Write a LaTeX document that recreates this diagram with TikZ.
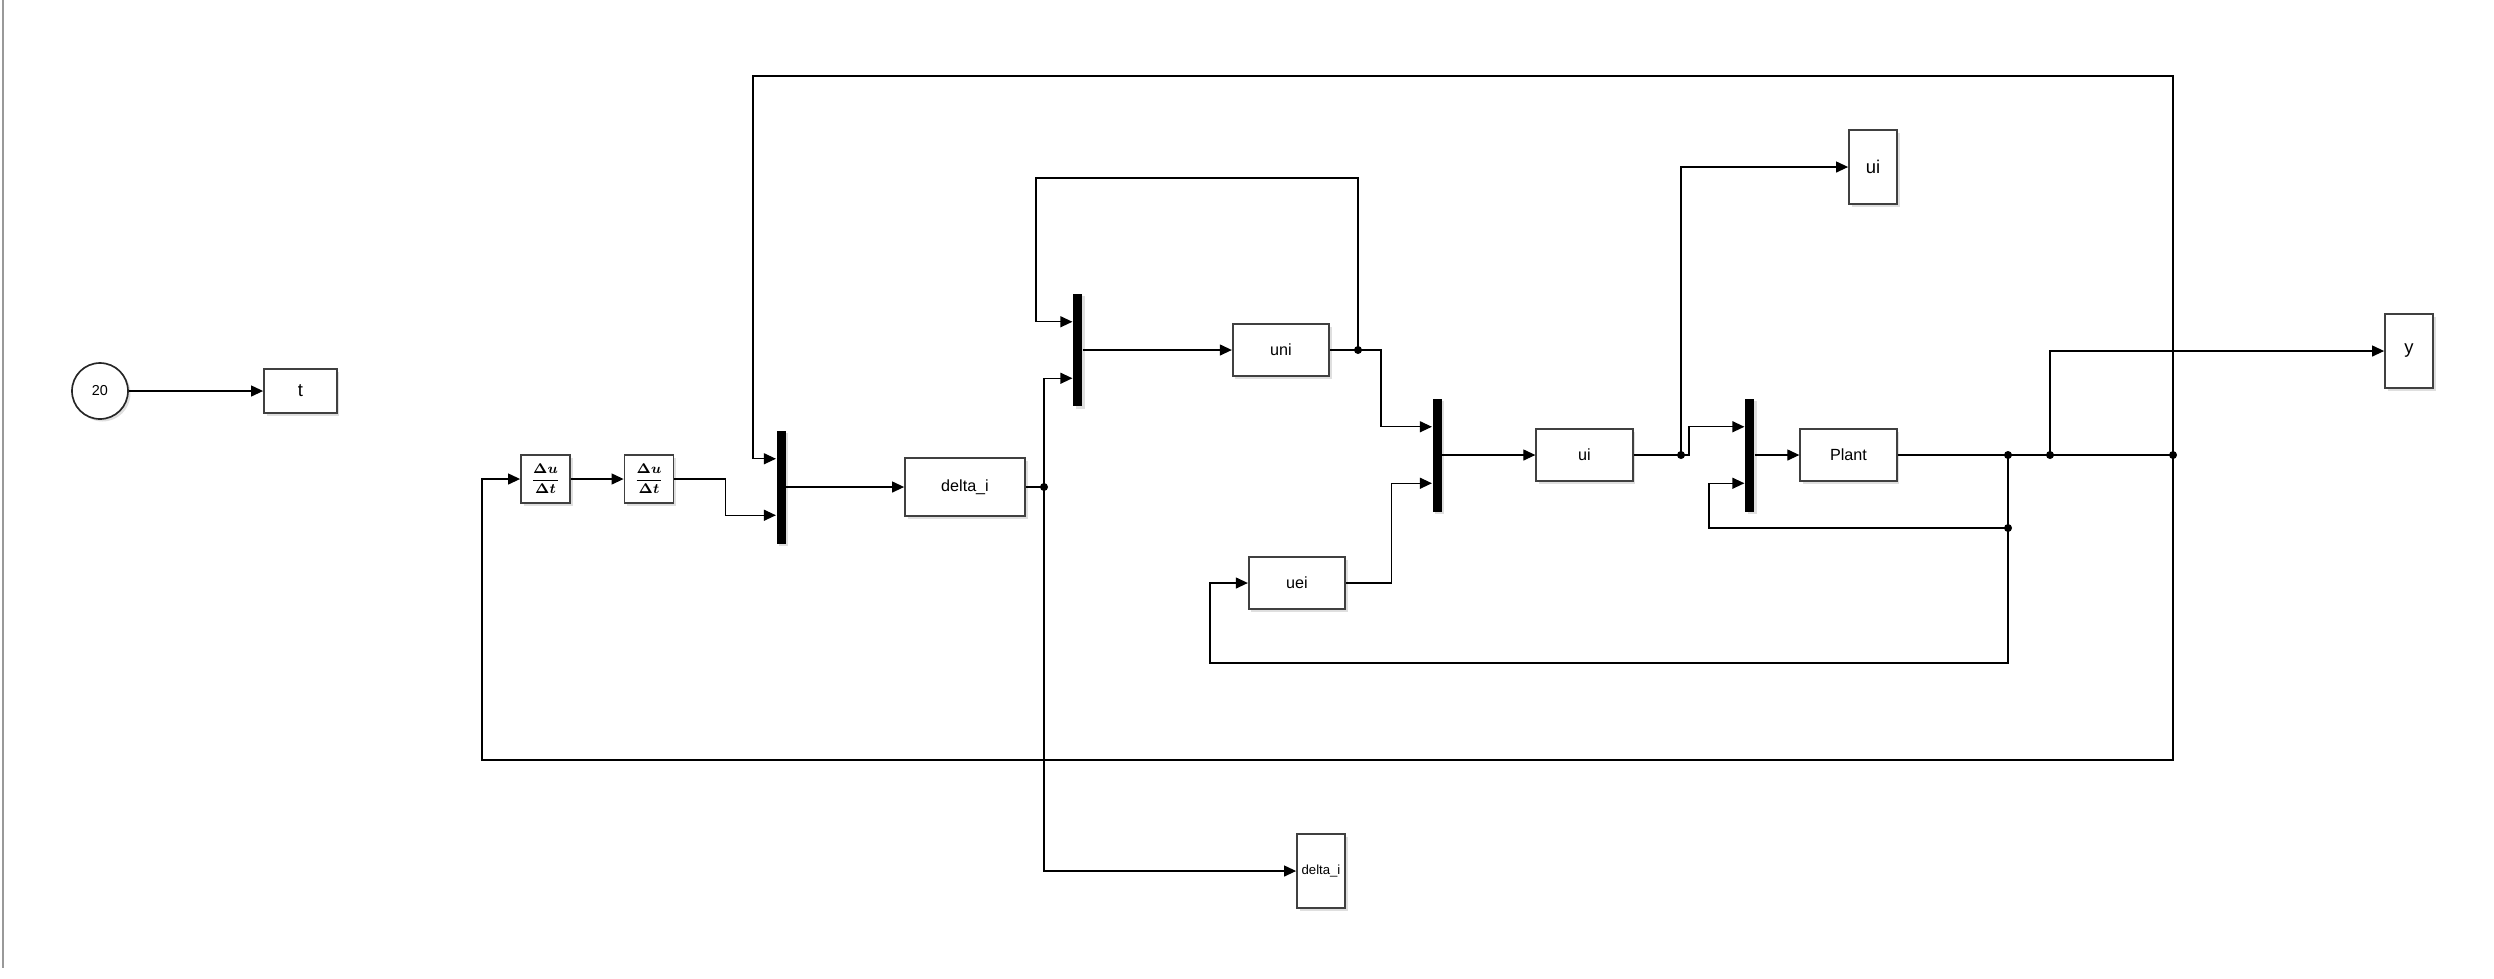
\documentclass[tikz,border=0pt]{standalone}
\usepackage{amsmath}
\usepackage{fontspec}
\setmainfont{Liberation Sans}
\usetikzlibrary{arrows.meta,shadows}
\begin{document}
\begin{tikzpicture}[x=0.02cm, y=-0.02cm, line width=0.7pt, >={Triangle[length=0.24cm,width=0.22cm]}]
        \tikzstyle{shd} = [drop shadow={shadow xshift=0.05cm, shadow yshift=-0.05cm, opacity=0.25}]
        \tikzstyle{blk} = [rectangle, draw=black!75, line width=1.05pt, fill=white, shd, inner sep=0pt, minimum width=1.93cm, minimum height=1.04cm, font=\fontsize{9.2}{10}\selectfont]
        \tikzstyle{port} = [blk, minimum width=0.96cm, minimum height=1.48cm, font=\fontsize{10.5}{12}\selectfont]
        \tikzstyle{mux} = [rectangle, fill=black, shd, inner sep=0pt, minimum width=0.18cm, minimum height=2.26cm]
        \tikzstyle{cst} = [circle, draw=black!85, line width=0.95pt, fill=white, shd, minimum size=1.12cm, font=\fontsize{8.2}{10}\selectfont]
        \tikzstyle{dudt} = [blk, minimum width=0.98cm, minimum height=0.96cm, font=\fontsize{8}{9}\selectfont\boldmath]
        \useasboundingbox (0,0) rectangle (2494,978);
        \draw [black!40, line width=1pt] (3,0) -- (3,968);
        % blocks
        \node [cst] (c20) at (100,391) {20};
        \node [port, minimum width=1.46cm, minimum height=0.88cm] (tout) at (300.5,391) {t};
        \node [dudt] (der1) at (545.5,479) {$\displaystyle\frac{\Delta u}{\Delta t}$};
        \node [dudt] (der2) at (649,479) {$\displaystyle\frac{\Delta u}{\Delta t}$};
        \node [mux] (mux1) at (781,487) {};
        \node [blk, minimum width=2.4cm, minimum height=1.16cm] (delta) at (965,487) {delta\_i};
        \node [mux] (mux2) at (1077.5,350) {};
        \node [blk] (uni) at (1281,350) {uni};
        \node [blk] (uei) at (1297,583) {uei};
        \node [mux] (mux3) at (1437,455) {};
        \node [blk] (ui) at (1584.5,455) {ui};
        \node [mux] (mux4) at (1749.5,455) {};
        \node [blk] (plant) at (1848.5,455) {Plant};
        \node [port] (uiout) at (1873,167) {ui};
        \node [port] (yout) at (2409,351) {y};
        \node [port, font=\fontsize{7.5}{9}\selectfont] (dout) at (1321,871) {delta\_i};
        % mux inputs
        \coordinate (m1a) at ([yshift=0.565cm]mux1.west); \coordinate (m1b) at ([yshift=-0.565cm]mux1.west);
        \coordinate (m2a) at ([yshift=0.565cm]mux2.west); \coordinate (m2b) at ([yshift=-0.565cm]mux2.west);
        \coordinate (m3a) at ([yshift=0.565cm]mux3.west); \coordinate (m3b) at ([yshift=-0.565cm]mux3.west);
        \coordinate (m4a) at ([yshift=0.565cm]mux4.west); \coordinate (m4b) at ([yshift=-0.565cm]mux4.west);
        % branch points and corners
        \coordinate (d1) at (1044,487); \coordinate (d2) at (1358,350); \coordinate (d3) at (1681,455);
        \coordinate (d4) at (2008,455); \coordinate (d5) at (2050,455); \coordinate (d6) at (2173,455);
        \coordinate (d7) at (2008,528);
        \coordinate (c2) at (1036,178); \coordinate (c6a) at (753,76); \coordinate (c6b) at (482,760);
        \coordinate (c7) at (1709,528); \coordinate (c8) at (1210,663);
        % signals
        \draw [->] (c20) -- (tout);
        \draw [->] (der1) -- (der2); \draw [->] (der2.east) -- ++(51,0) |- (m1b);
        \draw [->] (mux1.east) -- (delta.west);
        \draw (delta.east) -- (d1); \draw [->] (d1) |- (m2b); \draw [->] (d1) |- (dout.west);
        \draw [->] (mux2.east) -- (uni.west);
        \draw (uni.east) -- (d2); \draw [->] (d2) -- ++(23,0) |- (m3a); \draw [->] (d2) |- (c2) |- (m2a);
        \draw [->] (uei.east) -- ++(45,0) |- (m3b);
        \draw [->] (mux3.east) -- (ui.west);
        \draw (ui.east) -- (d3); \draw [->] (d3) -- ++(8,0) |- (m4a); \draw [->] (d3) |- (uiout.west);
        \draw [->] (mux4.east) -- (plant.west);
        \draw (plant.east) -- (d6); \draw [->] (d5) |- (yout.west);
        \draw [->] (d6) |- (c6a) |- (m1a); \draw [->] (d6) |- (c6b) |- (der1.west);
        \draw (d4) -- (d7); \draw [->] (d7) -- (c7) |- (m4b); \draw [->] (d7) |- (c8) |- (uei.west);
        \foreach \p in {d1,d2,d3,d4,d5,d6,d7} \fill (\p) circle (0.08cm);
    \end{tikzpicture}
\end{document}
